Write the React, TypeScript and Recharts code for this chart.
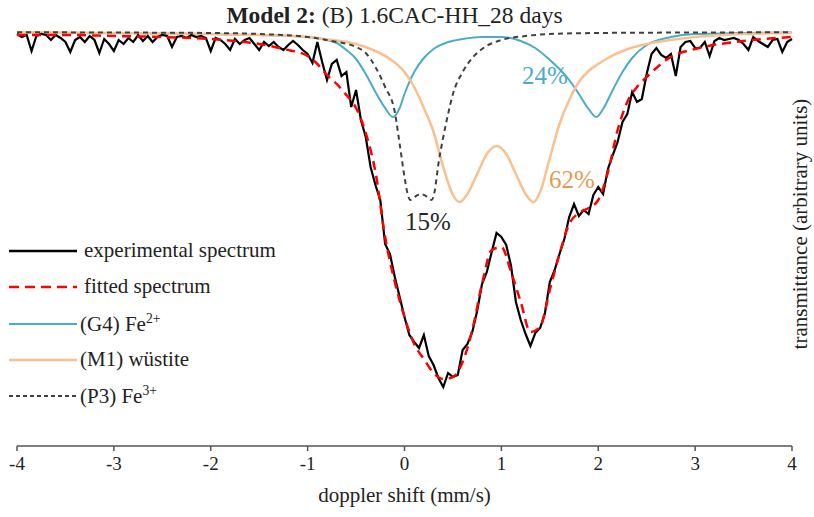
import { Line, LineChart, XAxis, YAxis } from 'recharts'

const FONT = "'Liberation Serif', 'Times New Roman', serif"

// channel velocities (mm/s) of the measured spectrum
const velocity = [
  -4, -3.95, -3.9, -3.85, -3.8, -3.75, -3.7, -3.65, -3.6, -3.55,
  -3.5, -3.45, -3.4, -3.35, -3.3, -3.25, -3.2, -3.15, -3.1, -3.05,
  -3, -2.95, -2.9, -2.85, -2.8, -2.75, -2.7, -2.65, -2.6, -2.55,
  -2.5, -2.45, -2.4, -2.35, -2.3, -2.25, -2.2, -2.15, -2.1, -2.05,
  -2, -1.95, -1.9, -1.85, -1.8, -1.75, -1.7, -1.65, -1.6, -1.55,
  -1.5, -1.45, -1.4, -1.35, -1.3, -1.25, -1.2, -1.15, -1.1, -1.05,
  -1, -0.95, -0.9, -0.85, -0.8, -0.75, -0.7, -0.65, -0.6, -0.55,
  -0.5, -0.45, -0.4, -0.35, -0.3, -0.25, -0.2, -0.15, -0.1, -0.05,
  0, 0.05, 0.1, 0.15, 0.2, 0.25, 0.3, 0.35, 0.4, 0.45,
  0.5, 0.55, 0.6, 0.65, 0.7, 0.75, 0.8, 0.85, 0.9, 0.95,
  1, 1.05, 1.1, 1.15, 1.2, 1.25, 1.3, 1.35, 1.4, 1.45,
  1.5, 1.55, 1.6, 1.65, 1.7, 1.75, 1.8, 1.85, 1.9, 1.95,
  2, 2.05, 2.1, 2.15, 2.2, 2.25, 2.3, 2.35, 2.4, 2.45,
  2.5, 2.55, 2.6, 2.65, 2.7, 2.75, 2.8, 2.85, 2.9, 2.95,
  3, 3.05, 3.1, 3.15, 3.2, 3.25, 3.3, 3.35, 3.4, 3.45,
  3.5, 3.55, 3.6, 3.65, 3.7, 3.75, 3.8, 3.85, 3.9, 3.95,
  4,
]

// relative transmittance (arbitrary units, baseline = 100)
const experimental = [
  99.8, 99.5, 99.7, 98.1, 99.6, 99.8, 99.7, 99.2, 99.7, 99.4,
  99.0, 98.0, 99.2, 99.5, 99.0, 99.6, 99.2, 97.9, 99.3, 98.8,
  98.1, 99.2, 98.8, 99.4, 99.0, 99.7, 99.1, 99.6, 99.0, 99.5,
  99.7, 99.6, 98.5, 99.5, 99.6, 99.4, 99.7, 99.5, 99.6, 99.4,
  98.1, 99.4, 99.2, 98.8, 98.2, 99.3, 98.8, 99.2, 99.4, 98.8,
  98.2, 99.0, 98.6, 99.0, 98.5, 98.2, 98.7, 99.1, 98.7, 98.2,
  97.8, 96.9, 99.0, 97.0, 95.2, 96.8, 97.2, 95.6, 96.0, 92.5,
  94.2, 91.2, 89.5, 86.5, 84.7, 83.2, 78.8, 77.8, 75.5, 73.5,
  71.5, 69.7, 69.0, 68.4, 69.7, 67.6, 66.7, 65.4, 64.5, 65.9,
  65.5, 65.7, 68.2, 68.8, 70.0, 72.1, 74.8, 76.0, 78.0, 79.9,
  79.5, 78.7, 76.6, 73.0, 71.2, 69.8, 68.6, 69.9, 70.4, 71.9,
  75.0, 76.2, 77.8, 79.3, 81.5, 82.8, 81.6, 82.2, 81.8, 83.7,
  84.5, 83.8, 86.3, 87.7, 89.0, 91.0, 91.8, 94.0, 93.0, 93.3,
  95.8, 97.8, 98.4, 97.7, 97.4, 97.8, 95.6, 98.5, 99.0, 99.1,
  98.4, 98.4, 99.0, 97.6, 99.1, 99.4, 99.2, 99.3, 99.4, 99.2,
  98.8, 98.2, 99.5, 99.1, 98.8, 98.5, 99.2, 99.3, 98.0, 99.0,
  99.3,
]

const fitVelocity = [
  -4, -3.5, -3, -2.5, -2, -1.75, -1.5, -1.25, -1, -0.9, -0.8, -0.7, -0.6, -0.5,
  -0.4, -0.3, -0.2, -0.1, 0, 0.1, 0.2, 0.3, 0.4, 0.5, 0.6, 0.7, 0.8, 0.9, 1,
  1.1, 1.2, 1.3, 1.4, 1.5, 1.6, 1.7, 1.8, 1.9, 2, 2.1, 2.2, 2.3, 2.4, 2.5,
  2.75, 3, 3.5, 4,
]
const fitted = [
  99.7, 99.7, 99.6, 99.5, 99.3, 99.1, 98.8, 98.3, 97.6, 96.8, 95.7, 94.8, 93.7, 92.4,
  89.9, 86.0, 79.5, 75.0, 71.5, 68.8, 67.3, 65.9, 65.3, 65.5, 67.0, 70.2, 74.8, 78.2, 78.5,
  76.0, 73.0, 70.0, 70.5, 74.2, 77.8, 80.8, 81.9, 82.4, 83.2, 86.0, 90.2, 93.0, 94.5, 95.5,
  97.5, 98.3, 99.1, 99.5,
]

// (G4) Fe2+ doublet
const g4Velocity = [
  -4, -3, -2, -1.5, -1, -0.8, -0.7, -0.6, -0.5, -0.4, -0.3, -0.2, -0.12, -0.05,
  0, 0.1, 0.2, 0.3, 0.45, 0.6, 0.8, 1, 1.2, 1.35, 1.5, 1.6, 1.7, 1.8, 1.9, 1.98,
  2.05, 2.15, 2.25, 2.35, 2.5, 2.75, 3, 3.5, 4,
]
const g4 = [
  99.95, 99.9, 99.8, 99.7, 99.5, 99.2, 98.9, 98.2, 97.3, 95.8, 94.0, 92.4, 91.5, 92.4,
  93.8, 96.0, 97.4, 98.3, 99.0, 99.3, 99.5, 99.5, 99.1, 98.4, 97.2, 96.3, 95.2, 93.8, 92.3, 91.5,
  92.3, 94.2, 96.0, 97.4, 98.7, 99.5, 99.8, 99.9, 99.95,
]

// (M1) wüstite doublet
const m1Velocity = [
  -4, -3, -2, -1.5, -1, -0.75, -0.5, -0.3, -0.15, 0, 0.1, 0.2, 0.3, 0.4, 0.5, 0.57,
  0.65, 0.75, 0.85, 0.95, 1.05, 1.15, 1.25, 1.33, 1.4, 1.5, 1.6, 1.7, 1.8, 1.9,
  2, 2.1, 2.25, 2.5, 2.75, 3, 3.5, 4,
]
const m1 = [
  99.95, 99.9, 99.8, 99.7, 99.5, 99.2, 98.8, 98.1, 97.3, 96.0, 94.5, 92.4, 90.0, 86.5, 83.7, 83.0,
  83.8, 85.8, 87.8, 88.6, 87.8, 85.8, 83.8, 83.0, 84.0, 87.4, 90.8, 93.2, 95.0, 96.1,
  96.8, 97.4, 98.1, 98.8, 99.2, 99.5, 99.8, 99.9,
]

// (P3) Fe3+ doublet
const p3Velocity = [
  -4, -3, -2, -1.5, -1, -0.75, -0.5, -0.4, -0.3, -0.2, -0.1, -0.05, 0, 0.03, 0.06,
  0.12, 0.17, 0.22, 0.28, 0.31, 0.35, 0.4, 0.45, 0.5, 0.6, 0.7, 0.8, 1, 1.25, 1.5,
  2, 3, 4,
]
const p3 = [
  99.97, 99.95, 99.9, 99.8, 99.5, 99.1, 98.5, 97.9, 96.5, 94.5, 92.0, 88.8, 85.5, 83.9, 83.2,
  83.6, 83.8, 83.6, 83.2, 84.0, 86.8, 89.5, 91.8, 93.8, 96.0, 97.4, 98.3, 99.2, 99.6, 99.8,
  99.9, 99.95, 99.97,
]

const xTicks = [-4, -3, -2, -1, 0, 1, 2, 3, 4]

const toPoints = (xs: number[], ys: number[]) => xs.map((v, i) => ({ v, t: ys[i] }))

const textStyle = { fontFamily: FONT, color: '#222', lineHeight: 1, whiteSpace: 'nowrap' as const }

const LegendRow = ({ y, textX, stroke, width, dash, children }: any) => (
  <>
    <svg style={{ position: 'absolute', left: 0, top: y - 5 }} width={80} height={10}>
      <line x1={9} x2={77} y1={5} y2={5} stroke={stroke} strokeWidth={width} strokeDasharray={dash} />
    </svg>
    <div style={{ ...textStyle, position: 'absolute', left: textX, top: y, transform: 'translateY(-52%)', fontSize: 21 }}>
      {children}
    </div>
  </>
)

const Pct = ({ x, y, color, children }: any) => (
  <div style={{ ...textStyle, position: 'absolute', left: x, top: y, transform: 'translate(-50%,-50%)', fontSize: 25, color }}>
    {children}
  </div>
)

export default function App() {
  return (
    <div style={{ position: 'absolute', left: 0, top: 0, width: 814, height: 517, background: '#fff' }}>
      <LineChart width={814} height={517} margin={{ top: 20, right: 22, bottom: 0, left: 17 }}>
        <XAxis
          type="number"
          dataKey="v"
          domain={[-4, 4]}
          ticks={xTicks}
          height={71}
          tickSize={5}
          tickMargin={6}
          axisLine={{ stroke: '#555', strokeWidth: 1.5 }}
          tickLine={{ stroke: '#555', strokeWidth: 1.5 }}
          tick={{ fill: '#222', fontSize: 19, fontFamily: FONT }}
          label={{ value: 'doppler shift (mm/s)', position: 'insideBottom', offset: 15, fill: '#222', fontSize: 21, fontFamily: FONT }}
        />
        <YAxis hide type="number" domain={[58.6, 101.2]} />
        <Line data={toPoints(g4Velocity, g4)} dataKey="t" type="monotone" stroke="#4bacc6" strokeWidth={2} dot={false} activeDot={false} isAnimationActive={false} />
        <Line data={toPoints(m1Velocity, m1)} dataKey="t" type="monotone" stroke="#fac090" strokeWidth={2.5} dot={false} activeDot={false} isAnimationActive={false} />
        <Line data={toPoints(p3Velocity, p3)} dataKey="t" type="monotone" stroke="#404040" strokeWidth={2} strokeDasharray="5 4" dot={false} activeDot={false} isAnimationActive={false} />
        <Line data={toPoints(velocity, experimental)} dataKey="t" type="linear" stroke="#000" strokeWidth={2.2} dot={false} activeDot={false} isAnimationActive={false} />
        <Line data={toPoints(fitVelocity, fitted)} dataKey="t" type="monotone" stroke="#ff0000" strokeWidth={2.5} strokeDasharray="9 6" dot={false} activeDot={false} isAnimationActive={false} />
      </LineChart>

      <div style={{ ...textStyle, position: 'absolute', left: 394.5, top: 4, transform: 'translateX(-50%)', fontSize: 23.5 }}>
        <b>Model 2:</b> (B) 1.6CAC-HH_28 days
      </div>

      <div
        style={{
          ...textStyle,
          position: 'absolute',
          left: 800,
          top: 224,
          transform: 'translate(-50%,-50%) rotate(-90deg)',
          fontSize: 21,
        }}
      >
        transmittance (arbitrary units)
      </div>

      <Pct x={545} y={75} color="#4bacc6">24%</Pct>
      <Pct x={572} y={179} color="#e59a52">62%</Pct>
      <Pct x={428} y={221} color="#262626">15%</Pct>

      <LegendRow y={251} textX={84} stroke="#000" width={2.5}>experimental spectrum</LegendRow>
      <LegendRow y={287} textX={84} stroke="#ff0000" width={2.5} dash="10 6">fitted spectrum</LegendRow>
      <LegendRow y={324} textX={80} stroke="#4bacc6" width={2}>
        (G4) Fe<sup style={{ fontSize: '0.65em' }}>2+</sup>
      </LegendRow>
      <LegendRow y={360} textX={80} stroke="#fac090" width={2.5}>(M1) wüstite</LegendRow>
      <LegendRow y={396} textX={80} stroke="#404040" width={1.8} dash="4 3">
        (P3) Fe<sup style={{ fontSize: '0.65em' }}>3+</sup>
      </LegendRow>
    </div>
  )
}
